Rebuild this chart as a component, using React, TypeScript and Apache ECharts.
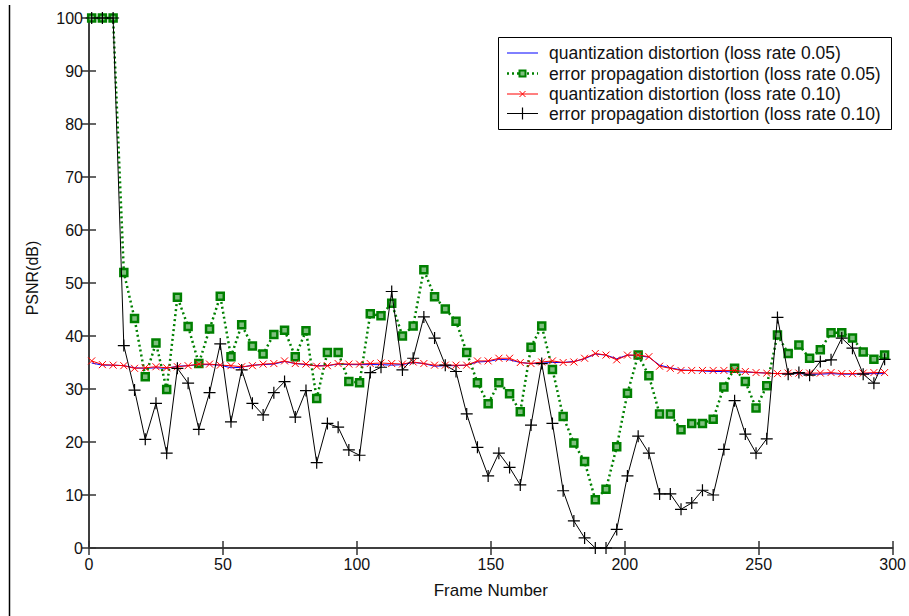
import React, { useEffect, useRef } from "react";
import * as echarts from "echarts";

const frames = [1, 5, 9, 13, 17, 21, 25, 29, 33, 37, 41, 45, 49, 53, 57, 61, 65, 69, 73, 77, 81, 85, 89, 93, 97, 101, 105, 109, 113, 117, 121, 125, 129, 133, 137, 141, 145, 149, 153, 157, 161, 165, 169, 173, 177, 181, 185, 189, 193, 197, 201, 205, 209, 213, 217, 221, 225, 229, 233, 237, 241, 245, 249, 253, 257, 261, 265, 269, 273, 277, 281, 285, 289, 293, 297];

const quant005 = [34.9, 34.5, 34.5, 34.4, 34.0, 33.9, 34.0, 33.9, 34.3, 34.4, 34.6, 34.6, 34.5, 34.0, 34.1, 34.5, 34.6, 34.7, 35.2, 34.8, 34.6, 34.4, 34.4, 34.7, 34.6, 34.6, 34.6, 34.6, 34.5, 34.6, 35.0, 34.8, 34.3, 34.4, 34.4, 34.5, 35.1, 35.2, 35.6, 35.5, 35.0, 34.8, 34.9, 35.0, 35.0, 35.2, 35.7, 36.6, 36.4, 35.7, 36.4, 36.3, 36.0, 34.5, 34.0, 33.6, 33.5, 33.4, 33.3, 33.3, 33.2, 33.2, 33.1, 33.0, 32.9, 32.9, 32.9, 32.8, 32.8, 32.9, 32.8, 32.8, 32.9, 32.9, 32.9];

const errProp005 = [100, 100, 100, 52.0, 43.3, 32.3, 38.7, 29.9, 47.3, 41.8, 34.8, 41.3, 47.5, 36.1, 42.1, 38.1, 36.6, 40.3, 41.1, 36.1, 41.0, 28.2, 36.9, 36.9, 31.4, 31.2, 44.2, 43.8, 46.2, 40.0, 41.9, 52.5, 47.4, 45.1, 42.8, 36.9, 31.2, 27.2, 31.2, 29.1, 25.7, 37.9, 41.9, 33.7, 24.8, 19.8, 16.3, 9.1, 11.1, 19.1, 29.2, 36.4, 32.5, 25.3, 25.3, 22.3, 23.5, 23.5, 24.3, 30.4, 33.9, 31.4, 26.4, 30.6, 40.2, 36.7, 38.3, 35.8, 37.4, 40.6, 40.6, 39.6, 37.0, 35.6, 36.4];

const quant010 = [35.3, 34.6, 34.5, 34.4, 33.9, 34.0, 34.2, 34.0, 34.2, 34.4, 34.7, 34.7, 34.5, 34.4, 34.2, 34.4, 34.7, 34.8, 35.3, 34.8, 34.7, 34.3, 34.4, 34.8, 34.7, 34.7, 34.8, 34.9, 34.8, 34.7, 35.1, 34.8, 34.5, 34.5, 34.5, 34.5, 35.3, 35.3, 35.8, 35.8, 35.0, 34.8, 35.1, 35.3, 35.0, 35.1, 35.8, 36.7, 36.4, 35.5, 36.4, 36.4, 36.1, 34.3, 33.9, 33.5, 33.5, 33.5, 33.5, 33.5, 33.5, 33.3, 33.1, 33.0, 32.9, 33.0, 33.0, 33.0, 33.0, 33.1, 32.9, 32.9, 33.0, 33.1, 33.1];

const errProp010 = [100, 100, 100, 38.2, 29.8, 20.5, 27.3, 17.9, 33.9, 31.1, 22.4, 29.3, 38.5, 23.8, 33.6, 27.3, 25.1, 29.3, 31.4, 24.7, 29.7, 16.1, 23.5, 22.8, 18.5, 17.5, 33.1, 34.1, 48.4, 33.6, 35.8, 43.6, 39.6, 34.5, 33.3, 25.3, 19.0, 13.6, 17.9, 15.2, 11.9, 23.2, 34.8, 23.5, 10.8, 5.1, 1.9, 0, 0, 3.5, 13.6, 21.1, 17.9, 10.2, 10.2, 7.3, 8.5, 10.9, 10.0, 18.6, 27.8, 21.5, 17.9, 20.6, 43.5, 32.8, 33.1, 32.6, 35.2, 35.5, 39.6, 37.7, 32.8, 31.1, 35.6];

const seriesNames = [
  "quantization distortion (loss rate 0.05)",
  "error propagation distortion (loss rate 0.05)",
  "quantization distortion (loss rate 0.10)",
  "error propagation distortion (loss rate 0.10)",
];

const xTicks = { min: 0, max: 300, interval: 50 };
const yTicks = { min: 0, max: 100, interval: 10 };

const FONT = '"Liberation Sans", Arial, Helvetica, sans-serif';

const pair = (vals: number[]) => frames.map((f, i) => [f, vals[i]]);

function legendGraphics() {
  const left = 498.5, top = 37.5, w = 393, h = 92;
  const rows = [53, 73.5, 94, 113.5];
  const lx1 = 507, lx2 = 538, cx = 522.5, tx = 549;
  const els: any[] = [
    { type: "rect", z: 100, shape: { x: left, y: top, width: w, height: h }, style: { fill: "#fff", stroke: "#000", lineWidth: 1 } },
  ];
  // row 1: blue solid line
  els.push({ type: "line", z: 101, shape: { x1: lx1, y1: rows[0], x2: lx2, y2: rows[0] }, style: { stroke: "#0000ff", lineWidth: 1 } });
  // row 2: green dotted + square
  els.push({ type: "line", z: 101, shape: { x1: lx1, y1: rows[1], x2: lx2, y2: rows[1] }, style: { stroke: "#008000", lineWidth: 2.5, lineDash: [2, 3] } });
  els.push({ type: "rect", z: 102, shape: { x: cx - 3, y: rows[1] - 3, width: 6, height: 6 }, style: { fill: "#7fbf7f", stroke: "#008000", lineWidth: 2 } });
  // row 3: red line + x
  els.push({ type: "line", z: 101, shape: { x1: lx1, y1: rows[2], x2: lx2, y2: rows[2] }, style: { stroke: "#ff0000", lineWidth: 1 } });
  els.push({ type: "line", z: 102, shape: { x1: cx - 3, y1: rows[2] - 3, x2: cx + 3, y2: rows[2] + 3 }, style: { stroke: "#ff0000", lineWidth: 1 } });
  els.push({ type: "line", z: 102, shape: { x1: cx - 3, y1: rows[2] + 3, x2: cx + 3, y2: rows[2] - 3 }, style: { stroke: "#ff0000", lineWidth: 1 } });
  // row 4: black line + plus
  els.push({ type: "line", z: 101, shape: { x1: lx1, y1: rows[3], x2: lx2, y2: rows[3] }, style: { stroke: "#000", lineWidth: 1 } });
  els.push({ type: "line", z: 102, shape: { x1: cx, y1: rows[3] - 6, x2: cx, y2: rows[3] + 6 }, style: { stroke: "#000", lineWidth: 1.2 } });
  seriesNames.forEach((name, i) => {
    els.push({
      type: "text", z: 103, x: tx, y: rows[i],
      style: { text: name, fontSize: 17.5, fill: "#111", fontFamily: FONT, align: "left", verticalAlign: "middle" },
    });
  });
  return els;
}

export default function App() {
  const ref = useRef<HTMLDivElement>(null);
  useEffect(() => {
    if (!ref.current) return;
    const chart = echarts.init(ref.current, undefined, { renderer: "svg" });
    const axisLine = { show: true, lineStyle: { color: "#333", width: 1.5 } };
    const tick = { show: true, inside: true, length: 7, lineStyle: { color: "#333", width: 1.5 } };
    const label = { fontSize: 16, color: "#111", fontFamily: FONT };
    chart.setOption({
      animation: false,
      backgroundColor: "#fff",
      grid: { left: 89, top: 18, right: 16, bottom: 68, containLabel: false },
      xAxis: [
        {
          type: "value", ...xTicks, position: "bottom",
          axisLine, axisTick: tick, splitLine: { show: false },
          axisLabel: { ...label, margin: 8 },
          name: "Frame Number", nameLocation: "middle", nameGap: 34,
          nameTextStyle: { fontSize: 17, color: "#111", fontFamily: FONT },
        },
        {
          type: "value", ...xTicks, position: "top",
          axisLine, axisTick: tick, splitLine: { show: false }, axisLabel: { show: false },
        },
      ],
      yAxis: [
        {
          type: "value", ...yTicks, position: "left",
          axisLine, axisTick: tick, splitLine: { show: false },
          axisLabel: { ...label, margin: 6 },
        },
        {
          type: "value", ...yTicks, position: "right",
          axisLine, axisTick: tick, splitLine: { show: false }, axisLabel: { show: false },
        },
      ],
      series: [
        {
          name: seriesNames[0], type: "line", data: pair(quant005),
          symbol: "none", showSymbol: false, clip: false,
          lineStyle: { color: "#0000ff", width: 1 }, itemStyle: { color: "#0000ff" }, z: 2,
        },
        {
          name: seriesNames[1], type: "line", data: pair(errProp005),
          symbol: "rect", symbolSize: 7, clip: false,
          lineStyle: { color: "#008000", width: 2.5, type: [2, 3] },
          itemStyle: { color: "#7fbf7f", borderColor: "#008000", borderWidth: 2.5 }, z: 3,
        },
        {
          name: seriesNames[2], type: "line", data: pair(quant010),
          symbol: "path://M0,0 L10,10 M0,10 L10,0", symbolSize: 7, clip: false,
          lineStyle: { color: "#ff0000", width: 1 },
          itemStyle: { color: "#ff0000", borderColor: "#ff0000", borderWidth: 1 }, z: 4,
        },
        {
          name: seriesNames[3], type: "line", data: pair(errProp010),
          symbol: "path://M5,0 L5,10 M0,5 L10,5", symbolSize: 12, clip: false,
          lineStyle: { color: "#000", width: 1 },
          itemStyle: { color: "#000", borderColor: "#000", borderWidth: 1.2 }, z: 5,
        },
      ],
      graphic: [
        {
          type: "line", shape: { x1: 9.5, y1: 5, x2: 9.5, y2: 616 },
          style: { stroke: "#000", lineWidth: 1.5 },
        },
        {
          type: "text", x: 32, y: 278, rotation: Math.PI / 2,
          style: { text: "PSNR(dB)", fontSize: 16, fill: "#111", fontFamily: FONT, align: "center", verticalAlign: "middle" },
        },
        ...legendGraphics(),
      ],
    });
    return () => chart.dispose();
  }, []);
  return <div ref={ref} style={{ position: "absolute", left: 0, top: 0, width: 909, height: 616 }} />;
}
